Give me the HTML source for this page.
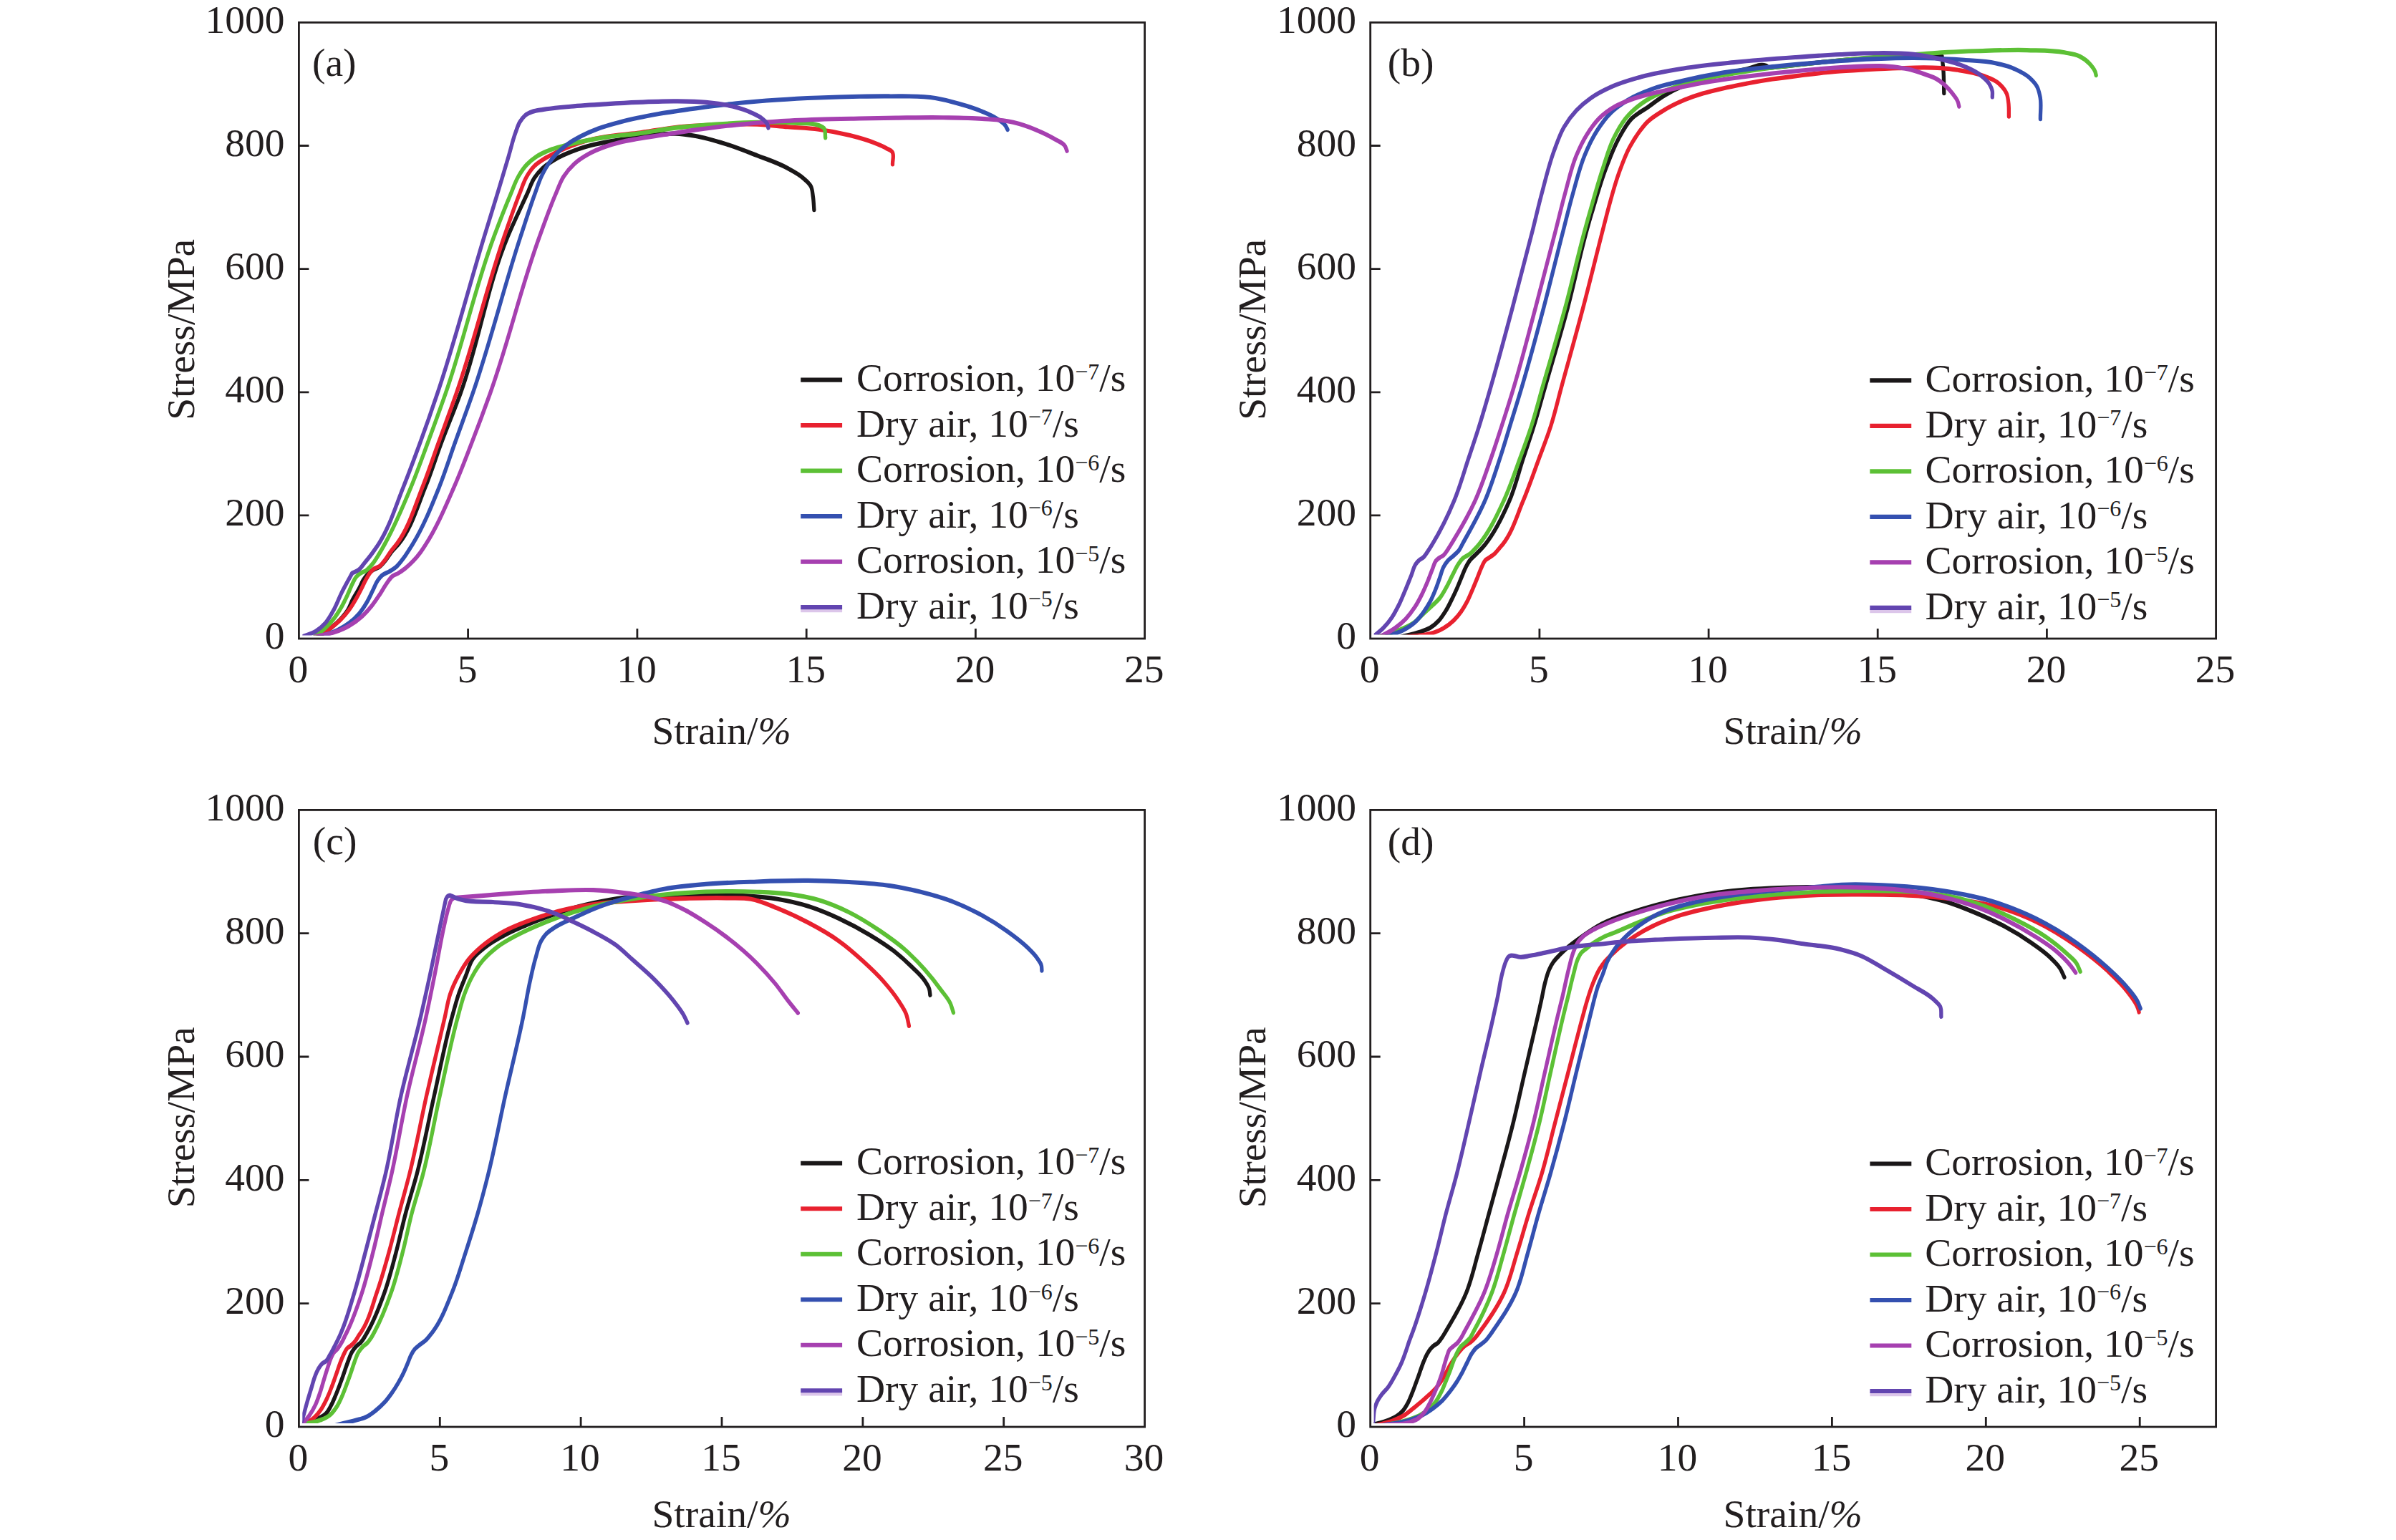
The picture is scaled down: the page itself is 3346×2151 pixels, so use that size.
<!DOCTYPE html>
<html lang="en"><head><meta charset="utf-8"><title>Stress-strain curves</title>
<style>
html,body{margin:0;padding:0;background:#fff;}
body{width:3346px;height:2151px;overflow:hidden;}
svg{display:block;}
text{font-family:"Liberation Serif", "Times New Roman", Times, serif;font-size:55.5px;fill:#221e1f;}
.sup{font-size:32px;}
.ax{stroke:#221e1f;stroke-width:2.8;fill:none;stroke-linecap:square;}
.tk{stroke:#221e1f;stroke-width:2.8;fill:none;}
.cv{fill:none;stroke-width:5.3;stroke-linecap:round;stroke-linejoin:round;}
.sw{fill:none;stroke-width:6.1;}
</style></head><body>
<svg xmlns="http://www.w3.org/2000/svg" width="3346" height="2151" viewBox="0 0 3346 2151">
<rect x="0" y="0" width="3346" height="2151" fill="#ffffff"/>
<g id="panel-a">
<clipPath id="clip-a"><rect x="422.3" y="31.4" width="1176.3" height="856.2"/></clipPath>
<g clip-path="url(#clip-a)"><g transform="scale(1 1.16)">
<path class="cv" stroke="#1a1718" d="M444 766.8C450.1 763.2 456.5 760 462.3 755.9C466.9 752.8 471.4 749.5 475.5 745.7C479.3 742.1 483 738.4 486 734.1C488.5 730.5 490 726.2 492.3 722.3C494.9 718 498.1 714 500.8 709.7C503.2 705.9 504.9 701.6 507.6 698C509.2 696 510.8 693.9 512.7 692.2C515.2 689.8 518 687.8 521 686.2C523.7 684.7 526.9 684.3 529.5 682.8C533.2 680.6 536 677.1 539 674C542 670.8 544.5 667 547.5 663.8C550.3 660.8 553.6 658.2 556.5 655.2C574.6 636.3 583 609.9 594.1 586.2C602.1 569.3 608.4 551.6 615.8 534.5C624.6 514.2 634.3 494.4 642.9 474.1C669 412.5 680.1 344.8 709.3 284.5C717.8 267 727.4 250 736.5 232.8C739.7 226.6 742 219.8 746.2 214.3C749.6 209.9 753.6 206 757.9 202.5C762.4 198.9 767.4 196 772.5 193.3C777.2 190.7 782.1 188.6 787.1 186.6C793.5 184 800 181.8 806.6 179.8C813 177.9 819.6 176.3 826.1 174.8C835.7 172.7 845.5 171.2 855.3 169.7C866.8 168 878.4 167.1 890 165.6C896.7 164.7 903.3 163.6 910 162.9C920.9 161.8 931.9 160.6 942.9 160.9C952.4 161.1 962 162.4 971.4 163.8C985.9 166 1000.1 169.8 1014.3 173.6C1028.7 177.5 1042.9 182.4 1057.1 187.2C1071.5 192 1086.3 196 1100 202.6C1107.4 206.1 1115.2 209.4 1121.7 214.5C1125.6 217.5 1130.2 220.3 1132.6 224.7C1134.6 228.4 1134.7 232.8 1135.4 236.9C1136.3 242.2 1136.4 247.5 1136.9 252.8"/>
<path class="cv" stroke="#e8212f" d="M444 766.8C450.1 763.2 456.4 759.9 462.3 755.9C467 752.8 471.7 749.6 476 745.9C480.2 742.3 484.1 738.3 487.7 734.1C490.9 730.4 493.7 726.4 496.4 722.3C499.2 718.2 501.7 714 504.2 709.7C506.5 705.9 508.5 701.8 511 698C512.9 695.1 514.6 692.1 516.9 689.6C518.6 687.7 520.5 685.9 522.7 684.6C524.8 683.4 527.4 683.2 529.5 682.1C533.1 680.1 535.6 676.6 538.3 673.6C541.1 670.5 543.3 666.8 546.1 663.5C548.6 660.6 551.4 658 553.9 655.2C571 635.6 579.2 609.8 590.1 586.2C598 569.2 604.6 551.7 611.8 534.5C620.2 514.4 628.9 494.4 637.1 474.1C662.2 411.9 679.3 346.7 704.3 284.5C711.3 267.2 718 249.7 725.8 232.8C728.9 226 731.3 218.8 735.5 212.6C738.6 208 742 203.6 746.2 200C749.7 197 753.9 194.7 757.9 192.4C762.6 189.7 767.6 187.5 772.5 185.3C778.2 182.8 784.1 180.6 790 178.4C798.7 175.3 807.5 172.3 816.4 170.1C826 167.7 835.8 166.1 845.6 164.7C860.3 162.4 875.2 161.9 890 160.2C907.7 158.2 925.2 155 942.9 153.4C961.9 151.6 980.9 150.9 1000 150.3C1019 149.7 1038.1 149.1 1057.1 149.7C1071.4 150.3 1085.7 151.8 1100 152.8C1114.5 153.8 1129 154.1 1143.4 155.8C1158 157.5 1172.5 159.9 1186.8 163C1197.8 165.4 1208.8 167.9 1219.4 171.5C1226 173.7 1232.7 175.9 1238.9 179C1241.2 180.1 1244 180.7 1245.8 182.7C1249.2 186.4 1246.3 192.7 1246.5 197.7"/>
<path class="cv" stroke="#5cc035" d="M439 766.8C444.2 763.2 449.6 760 454.5 755.9C458.6 752.6 462.6 749 466.2 745C470.2 740.6 473.6 735.7 476.9 730.8C480.1 725.9 482.9 720.7 485.7 715.6C488.1 711.2 489.9 706.5 492.5 702.2C494 699.6 495.3 696.8 497.4 694.7C499.1 693 501.1 691.6 503.2 690.4C505.6 689 508.6 688.5 511 687.1C514.3 685.1 517.1 682.3 519.8 679.5C523.5 675.7 526.4 671.2 529.5 666.9C532.2 663.1 534.8 659.1 537.3 655.2C551.4 633.3 562.9 609.7 574.1 586.2C582.2 569.2 589.4 551.8 596.8 534.5C605.4 514.4 613.9 494.4 622.1 474.1C647.3 411.9 663.3 346.1 690 284.5C697.5 267.1 705.2 249.8 713.6 232.8C716.9 226 719.6 218.8 723.8 212.6C727.2 207.5 731 202.5 735.5 198.4C739.3 194.8 743.7 191.7 748.2 189.1C754.3 185.4 761 183 767.7 180.7C774 178.5 780.6 177.2 787.1 175.7C796.8 173.4 806.6 171.5 816.4 169.7C826.1 168 835.8 166.5 845.6 165.2C860.3 163.2 875.2 162.6 890 160.9C907.7 159 925.2 155.8 942.9 154C961.9 152 980.9 150.8 1000 149.7C1019 148.6 1038.1 147.6 1057.1 147.3C1076.2 147.1 1095.3 147.1 1114.3 148.3C1123.9 148.9 1133.9 147.4 1142.9 150.8C1145.5 151.8 1148.6 152.3 1150.5 154.3C1153.2 157.2 1152 162 1152.7 165.9"/>
<path class="cv" stroke="#3450b0" d="M446 766.8C454.7 764 463.8 762.2 472.1 758.4C477.5 756 482.8 753.3 487.7 750.1C492.6 746.9 497.2 743.3 501.3 739.1C505.3 735.1 508.8 730.4 512 725.7C515.3 720.9 517.9 715.6 520.8 710.6C523.1 706.7 524.7 702.3 527.6 698.8C529.3 696.7 531.2 694.6 533.4 692.9C536.6 690.5 540.7 689.8 544.2 687.9C547.5 686.2 550.9 684.4 553.9 682.1C557.6 679.2 560.6 675.5 563.6 672C566.4 668.8 568.9 665.3 571.4 661.9C573.1 659.7 574.7 657.4 576.3 655.2C591.4 633.9 602.5 609.9 613.5 586.2C621.3 569.3 627.7 551.7 634.8 534.5C643.1 514.3 651.9 494.4 660 474.1C685 411.9 703.2 347.1 727.1 284.5C733.7 267.2 740 249.8 747.2 232.8C750.1 226 752.5 219 756 212.6C758.9 207.3 762 202.2 765.7 197.5C769.2 193 773.2 188.8 777.4 184.9C781.9 180.8 786.9 177.2 792 174C798.2 170 804.8 166.9 811.5 163.9C819.4 160.3 827.6 157.3 835.8 154.7C845.4 151.6 855.3 149.3 865.1 147.1C873.4 145.2 881.7 143.6 890 142.1C900 140.2 910 138.6 920 137.1C937.1 134.5 954.2 132.5 971.4 130.5C990.4 128.3 1009.5 126.1 1028.6 124.4C1047.6 122.7 1066.6 121.4 1085.7 120.3C1104.8 119.1 1123.8 118.3 1142.9 117.7C1161.9 117 1181 116.5 1200 116.2C1213.7 116 1227.3 115.8 1241 115.9C1262.7 116 1284.7 115 1306.2 118.1C1317.1 119.7 1328 122 1338.7 124.7C1349.7 127.3 1360.7 130.1 1371.3 134.1C1378.7 136.8 1386.2 139.3 1393 143.4C1396.8 145.6 1401 147.5 1403.8 150.9C1405.1 152.5 1406 154.4 1407.1 156.1"/>
<path class="cv" stroke="#a640b0" d="M440 766.8C449.4 764.9 459 763.8 468.2 760.9C474.9 758.9 481.5 756.6 487.7 753.4C493.9 750.4 499.8 746.7 505.2 742.5C510.1 738.7 514.6 734.4 518.8 729.9C523 725.4 526.7 720.5 530.5 715.6C533.9 711.2 536.7 706.4 540.3 702.2C542.7 699.3 544.8 695.9 548 693.8C550.4 692.2 553.3 691.7 555.8 690.4C559.2 688.7 562.4 686.7 565.6 684.6C569.7 681.8 573.6 678.7 577.3 675.3C580.7 672.2 584 668.8 587 665.3C589.8 662 592.3 658.6 594.8 655.2C610.6 633.9 622.2 609.8 634.2 586.2C642.8 569.3 650.4 551.8 658.2 534.5C667.2 514.5 675.9 494.4 684.3 474.1C710.1 412 727.3 346.5 753.6 284.5C761 267.1 767.9 249.6 776.4 232.8C779.8 226 782.6 218.7 787.1 212.6C791.3 206.9 796.3 201.9 801.8 197.5C807.7 192.8 814.4 189.1 821.2 185.8C829 181.9 837.3 179 845.6 176.5C852 174.5 858.5 172.9 865.1 171.5C873.3 169.7 881.7 168.5 890 167.2C902.8 165.2 915.7 163.8 928.6 162.1C942.9 160.2 957.1 158.1 971.4 156.4C990.4 154.1 1009.5 152 1028.6 150.3C1047.6 148.6 1066.6 147.2 1085.7 146.1C1104.8 145 1123.8 144.4 1142.9 143.8C1161.9 143.2 1181 143 1200 142.7C1217.3 142.4 1234.6 142.1 1251.9 141.9C1273.6 141.7 1295.3 141.3 1317 141.6C1335.1 141.8 1353.2 141.8 1371.3 143C1385.8 144 1400.5 144.3 1414.7 147.2C1425.7 149.4 1436.6 152.6 1447.2 156.5C1456.1 159.7 1464.9 163.2 1473.3 167.7C1478.1 170.3 1484.3 171.6 1487.4 176.1C1488.6 177.8 1489.1 179.9 1490 181.7"/>
<path class="cv" stroke="#6245b0" d="M422 766.8C428.3 764.6 435 763.3 440.9 760.1C445.8 757.4 450.5 754 454.5 750.1C459.2 745.5 462.7 739.7 466.2 734.1C470.3 727.7 473.1 720.6 476.9 714C479.7 709.1 482.7 704.4 485.7 699.7C487.7 696.5 489.8 693.3 491.8 690.1C495 688.7 498.4 687.8 501.3 685.9C504.4 683.8 506.5 680.6 509.1 677.8C512.7 674 516.4 670.1 519.8 666.1C522.8 662.6 525.8 658.9 528.6 655.2C544.1 634.6 552.5 609.5 563.4 586.2C571.4 569.1 578.7 551.8 586.1 534.5C594.6 514.5 602.8 494.4 610.7 474.1C635.1 411.9 654.1 347.6 676.4 284.5C682.5 267.2 688.7 250 694.8 232.8C700.1 217.7 705.3 202.5 710.5 187.4C713.7 178.1 716.1 168.5 720 159.5C721.8 155.3 723.2 150.8 725.8 147.1C728 143.9 730.5 140.9 733.6 138.7C736.5 136.7 739.9 135.6 743.3 134.5C748 133 753 132.7 757.9 132C770.8 130 783.9 129.2 796.9 128.2C813.1 126.9 829.4 126.1 845.6 125.3C860.4 124.5 875.2 123.7 890 123.2C907.6 122.5 925.3 121.8 942.9 121.9C957.2 122 971.5 122 985.7 123.2C998.2 124.2 1010.7 125.4 1022.9 128.1C1031.6 130 1040.3 132.2 1048.6 135.4C1054 137.6 1059.6 139.5 1064.3 142.8C1066.9 144.7 1069.9 146.3 1071.4 149.1C1072.2 150.6 1072.4 152.3 1072.9 154"/>
</g></g>
<rect class="ax" x="417.4" y="31.4" width="1181.2" height="860.6"/>
<path class="tk" d="M653.6 892 v-14M889.9 892 v-14M1126.2 892 v-14M1362.4 892 v-14M417.4 719.9 h14M417.4 547.8 h14M417.4 375.6 h14M417.4 203.5 h14"/>
<text x="416.4" y="952.8" text-anchor="middle">0</text>
<text x="652.6" y="952.8" text-anchor="middle">5</text>
<text x="888.9" y="952.8" text-anchor="middle">10</text>
<text x="1125.2" y="952.8" text-anchor="middle">15</text>
<text x="1361.4" y="952.8" text-anchor="middle">20</text>
<text x="1597.7" y="952.8" text-anchor="middle">25</text>
<text x="397.6" y="906.2" text-anchor="end">0</text>
<text x="397.6" y="734.1" text-anchor="end">200</text>
<text x="397.6" y="562" text-anchor="end">400</text>
<text x="397.6" y="389.8" text-anchor="end">600</text>
<text x="397.6" y="217.7" text-anchor="end">800</text>
<text x="397.6" y="45.6" text-anchor="end">1000</text>
<text x="1007.5" y="1038.9" text-anchor="middle">Strain/<tspan font-style="italic">%</tspan></text>
<text transform="translate(270.6 460.2) rotate(-90)" text-anchor="middle">Stress/MPa</text>
<text x="436" y="106">(a)</text>
<path class="sw" stroke="#1a1718" d="M1118.2 530.6 H1176.1"/>
<text x="1196" y="546.2">Corrosion, 10<tspan class="sup" dy="-16.3">−7</tspan><tspan dy="16.3">/s</tspan></text>
<path class="sw" stroke="#e8212f" d="M1118.2 594.1 H1176.1"/>
<text x="1196" y="609.7">Dry air, 10<tspan class="sup" dy="-16.3">−7</tspan><tspan dy="16.3">/s</tspan></text>
<path class="sw" stroke="#5cc035" d="M1118.2 657.6 H1176.1"/>
<text x="1196" y="673.2">Corrosion, 10<tspan class="sup" dy="-16.3">−6</tspan><tspan dy="16.3">/s</tspan></text>
<path class="sw" stroke="#3450b0" d="M1118.2 721.1 H1176.1"/>
<text x="1196" y="736.7">Dry air, 10<tspan class="sup" dy="-16.3">−6</tspan><tspan dy="16.3">/s</tspan></text>
<path class="sw" stroke="#a640b0" d="M1118.2 784.6 H1176.1"/>
<text x="1196" y="800.2">Corrosion, 10<tspan class="sup" dy="-16.3">−5</tspan><tspan dy="16.3">/s</tspan></text>
<path class="sw" stroke="#dcc6ea" stroke-width="3" d="M1118.2 852.3 H1176.1"/>
<path class="sw" stroke="#6245b0" d="M1118.2 848.1 H1176.1"/>
<text x="1196" y="863.7">Dry air, 10<tspan class="sup" dy="-16.3">−5</tspan><tspan dy="16.3">/s</tspan></text>
</g>
<g id="panel-b">
<clipPath id="clip-b"><rect x="1918.6" y="31.4" width="1176" height="855.2"/></clipPath>
<g clip-path="url(#clip-b)"><g transform="scale(1 1.16)">
<path class="cv" stroke="#1a1718" d="M1957 766.8C1965.6 764.9 1974.4 763.5 1982.8 760.9C1987.7 759.5 1992.8 758.3 1997.4 755.9C2001.7 753.7 2005.6 750.8 2009.1 747.5C2012.8 744 2015.8 739.9 2018.8 735.8C2021.7 731.8 2024.1 727.5 2026.6 723.2C2029.3 718.5 2031.9 713.7 2034.4 708.9C2036.8 704.2 2038.9 699.4 2041.2 694.7C2043.1 690.7 2044.8 686.6 2047.1 682.8C2048.9 679.9 2050.6 677 2052.9 674.5C2055.2 671.9 2058.1 670 2060.7 667.8C2063.3 665.5 2066 663.4 2068.5 661C2070.5 659.1 2072.4 657.2 2074.3 655.2C2088.4 640.2 2098.5 621.8 2107.7 603.4C2115.9 586.9 2120.7 569 2127.3 551.7C2132.2 538.8 2137.4 526 2142.1 512.9C2147.7 497.3 2152.6 481.3 2157.9 465.5C2168.4 433.9 2179.5 402.5 2189.3 370.7C2199 339.3 2206.2 307.1 2216.4 275.9C2218.5 269.3 2220.7 262.7 2223 256.1C2229.3 237.9 2235.2 219.6 2243 202C2248.2 190.3 2253.2 178.3 2260 167.5C2265.5 158.8 2270.9 149.7 2278.6 142.8C2285.3 136.9 2293.8 133.5 2301.4 128.9C2309.2 124.1 2316.8 118.9 2325 114.7C2333.7 110.2 2342.8 106.3 2352 103C2360.7 99.9 2369.7 97.6 2378.6 95.3C2392.7 91.6 2407.1 89.5 2421.4 86.6C2427.6 85.4 2433.8 84 2440 82.9C2448.6 81.4 2457.7 76.2 2466 79.1C2467.7 79.7 2469.2 81 2471 81.5C2473.5 82 2476.1 81.2 2478.6 81C2492.4 80.2 2506.2 78.4 2520 77.2C2534.3 75.8 2548.6 74.4 2562.9 73.3C2581.9 71.7 2601 70.3 2620.1 69.4C2640.1 68.5 2660 68.4 2680 68.1C2690.7 67.9 2701.3 67.8 2712 67.7C2712.6 73.2 2713.4 78.7 2713.9 84.3C2714.7 93.6 2714.5 103 2714.8 112.3"/>
<path class="cv" stroke="#e8212f" d="M1965 766.8C1977.4 765.1 1990.3 765.6 2002.3 761.8C2007.3 760.2 2012.3 758.4 2016.9 755.9C2021.4 753.6 2025.6 750.7 2029.5 747.5C2033.4 744.3 2037 740.6 2040.3 736.6C2043.6 732.7 2046.4 728.4 2049 724.1C2051.9 719.2 2054.3 714 2056.8 708.9C2059.1 704.2 2061.4 699.4 2063.6 694.7C2065.6 690.5 2067.2 686.1 2069.5 682.1C2071 679.5 2072.1 676.5 2074.3 674.5C2076 673 2078.3 672.3 2080.2 671.1C2082.5 669.8 2084.9 668.5 2087 666.9C2089.5 664.9 2091.6 662.4 2093.8 660.2C2095.4 658.5 2097.1 656.9 2098.7 655.2C2112 640.8 2118.3 621.1 2126.9 603.4C2135.1 586.5 2142 569 2149.4 551.7C2154.9 538.8 2160.8 526.1 2165.7 512.9C2171.5 497.4 2175.7 481.3 2180.7 465.5C2190.7 433.9 2201 402.4 2210.7 370.7C2220.3 339.2 2229.2 307.4 2238.6 275.9C2240.6 269.3 2242.5 262.7 2244.5 256.1C2249.7 239.6 2254.6 222.8 2261.4 206.9C2265.7 196.8 2269.9 186.6 2275.7 177.3C2280 170.5 2284.7 163.9 2290 157.8C2293.2 154.1 2296.4 150.5 2300 147.3C2306.5 141.6 2314.4 137.7 2322 133.6C2331.8 128.3 2342.1 124 2352.6 120.2C2360.9 117.2 2369.4 114.7 2378 112.5C2387 110.2 2396.1 108.4 2405.2 106.6C2416.7 104.2 2428.4 102.3 2440 100.4C2451.7 98.5 2463.5 96.8 2475.3 95.3C2489.8 93.4 2504.4 91.9 2519 90.3C2533.6 88.8 2548.2 87.3 2562.9 86.2C2577.2 85.1 2591.6 84.5 2606 83.8C2620.9 83.1 2635.7 82.4 2650.6 82.1C2666.7 81.7 2682.9 81 2699 81.6C2706 81.8 2713 82 2720 82.7C2724.7 83.1 2729.3 83.7 2734 84.3C2745.8 85.9 2757.8 87.4 2769.1 91.1C2777 93.7 2785.5 95.7 2791.9 100.9C2796 104.3 2800.2 108.2 2802.4 113C2804.1 116.8 2804.5 121.1 2805 125.2C2805.6 130.2 2805.3 135.2 2805.4 140.3"/>
<path class="cv" stroke="#5cc035" d="M1925 766.8C1934.8 764 1944.9 762 1954.5 758.4C1961.1 756 1968 753.8 1974 750.1C1979 747 1983.1 742.8 1987.7 739.1C1991.9 735.8 1996.2 732.5 2000.3 729.1C2003.6 726.3 2007.1 723.8 2010.1 720.7C2013.9 716.7 2016.8 711.9 2019.8 707.2C2023 702.4 2025.6 697.1 2028.6 692.2C2031.2 687.9 2033.4 683.4 2036.4 679.5C2038.5 676.8 2040.5 674.1 2043.2 672C2046.1 669.7 2049.9 669 2052.9 666.9C2055.4 665.2 2057.5 663.1 2059.7 661C2061.7 659.1 2063.7 657.2 2065.6 655.2C2079.9 640.3 2089.9 621.6 2099.7 603.4C2108.7 586.9 2115.3 569.1 2122.7 551.7C2128.2 538.9 2133.7 526 2138.6 512.9C2144.4 497.3 2149.1 481.3 2154.3 465.5C2164.8 433.9 2175.8 402.5 2185.7 370.7C2195.5 339.2 2203.6 307.3 2213.6 275.9C2215.7 269.3 2217.8 262.7 2220 256.1C2226 238 2231.7 219.8 2238.6 202C2243.1 190.4 2246.8 178.4 2252.9 167.5C2257.8 158.8 2263.2 150.2 2270 142.8C2276.7 135.7 2284.6 129.6 2292.9 124.4C2301.8 118.8 2311.6 114.8 2321.4 110.9C2335.3 105.3 2349.8 101.4 2364.3 97.8C2383.1 93.3 2402.3 91.2 2421.4 88.4C2440.4 85.6 2459.5 83.1 2478.6 81C2492.4 79.5 2506.2 78.4 2520 77.2C2534.3 75.8 2548.6 74.5 2562.9 73.3C2575.3 72.2 2587.6 71.2 2600 70.3C2611 69.4 2622 68.7 2633 68C2650.5 66.9 2668.1 66.1 2685.6 65C2697.1 64.3 2708.5 63.3 2720 62.8C2733.4 62.1 2746.9 61.7 2760.3 61.4C2783.7 60.8 2807.1 59.9 2830.5 60.4C2848 60.9 2865.7 60.3 2883 63.2C2890.1 64.4 2897.5 64.8 2904.1 67.8C2909.2 70 2914.1 73 2918.1 76.8C2921.2 79.7 2924.4 82.7 2926 86.6C2926.5 87.9 2926.8 89.3 2927.2 90.7"/>
<path class="cv" stroke="#3450b0" d="M1935 766.8C1943.5 764 1952.4 762.3 1960.4 758.4C1965.8 755.8 1971.3 753 1976 749.2C1980.4 745.8 1984.1 741.6 1987.7 737.4C1991.3 733.2 1994.5 728.7 1997.4 724.1C2000.4 719.2 2002.8 714.1 2005.2 708.9C2007.3 704.2 2009.1 699.4 2011 694.7C2012.6 690.7 2013.7 686.5 2015.9 682.8C2017.5 680.1 2019.5 677.6 2021.7 675.3C2024.3 672.7 2027.6 671 2030.5 668.6C2032.8 666.7 2035.3 665 2037.3 662.8C2039.3 660.5 2040.6 657.7 2042.2 655.2C2053.1 638.2 2064.5 621.5 2073.5 603.4C2081.8 586.8 2088.1 569.1 2094.7 551.7C2099.6 538.9 2104 525.9 2108.6 512.9C2114.2 497.1 2120 481.4 2125.4 465.5C2136.2 434.1 2146 402.4 2155.7 370.7C2165.4 339.2 2174.1 307.4 2183.6 275.9C2188 261.1 2192.2 246.2 2197 231.6C2201.9 216.6 2206.1 201.3 2212.9 187.2C2217.8 176.9 2223.3 166.8 2230 157.7C2235.9 149.6 2242.4 141.8 2250 135.4C2256.9 129.6 2264.9 125 2272.9 120.7C2283.7 114.9 2295.4 110.9 2307.1 107.2C2321.1 102.7 2335.6 100.3 2350 97.3C2368.9 93.4 2388 90.1 2407.1 87.4C2430.8 84.1 2454.7 82.2 2478.6 80.1C2502.4 78 2526.2 76.1 2550 74.6C2573.4 73 2596.7 71.5 2620.1 70.8C2643.5 70 2666.8 69.5 2690.2 70C2707.7 70.3 2725.3 71.1 2742.8 72.2C2757.4 73.2 2772.2 73.3 2786.6 76C2795.5 77.7 2804.4 79.6 2812.9 82.8C2820.2 85.7 2827.8 88.6 2834 93.4C2837.9 96.5 2841.9 99.7 2844.5 104C2846.8 107.6 2847.9 111.9 2848.9 116.1C2851.1 124.9 2849.2 134.2 2849.4 143.3"/>
<path class="cv" stroke="#a640b0" d="M1927 766.8C1934.2 763.2 1941.9 760.3 1948.7 755.9C1953.8 752.7 1958.8 749.1 1963.3 745C1968 740.7 1972.2 735.8 1976 730.8C1979.6 726 1982.7 720.8 1985.7 715.6C1988.5 710.7 1991 705.6 1993.5 700.5C1995.9 695.6 1997.9 690.4 2000.3 685.4C2001.9 682.1 2002.7 678.1 2005.2 675.3C2006.6 673.8 2008.4 672.7 2010.1 671.6C2011.9 670.4 2014.2 669.9 2015.9 668.6C2018.3 666.9 2019.9 664.2 2021.7 661.9C2023.4 659.7 2025 657.4 2026.6 655.2C2038.5 638.5 2050.1 621.5 2059.7 603.4C2068.5 586.8 2075.1 569.1 2082.2 551.7C2087.4 538.9 2092.2 525.9 2097.1 512.9C2103 497.2 2108.8 481.4 2114.3 465.5C2125.2 434.2 2134.5 402.4 2144.3 370.7C2154 339.1 2163.5 307.5 2172.9 275.9C2177.3 261.1 2181.3 246.2 2186 231.6C2190.8 216.6 2194.5 201.2 2201.4 187.2C2205.6 178.6 2210.1 170.3 2215.7 162.6C2220.8 155.5 2226.3 148.6 2232.9 142.8C2239.7 136.9 2247.6 132.1 2255.7 128.1C2262.8 124.6 2270.4 122.2 2278 119.8C2285.2 117.6 2292.6 115.9 2300 114.1C2314.5 110.7 2329.2 108.3 2343.8 105.6C2358.4 103 2373 100.4 2387.6 98.3C2402 96.2 2416.5 94.6 2431 92.9C2445.7 91.3 2460.5 89.8 2475.3 88.4C2489.9 87.1 2504.4 85.9 2519 84.7C2533.6 83.6 2548.3 82.5 2562.9 81.6C2575.3 80.9 2587.6 80.2 2600 79.8C2608.1 79.6 2616.2 79.2 2624.3 79.4C2632.9 79.6 2641.5 80 2650 81C2656.1 81.8 2662.1 82.6 2668.1 83.9C2675.6 85.5 2682.9 87.8 2690.2 90.1C2694.6 91.5 2699.1 92.5 2703.2 94.5C2707.8 96.6 2712 99.5 2716 102.6C2720 105.7 2723.7 109.2 2727 113C2729.5 115.9 2732.4 118.6 2734 122.2C2734.9 124.1 2735.2 126.2 2735.8 128.2"/>
<path class="cv" stroke="#6245b0" d="M1917.5 766.8C1922.4 763.2 1927.6 760 1932.1 755.9C1936.4 752.1 1940.3 747.9 1943.8 743.4C1947.9 738.1 1951.2 732.3 1954.5 726.6C1957.7 720.8 1960.4 714.8 1963.3 708.9C1966 703.3 1968.5 697.7 1971.1 692.2C1973 687.9 1974.1 683.2 1976.9 679.5C1978.3 677.6 1979.9 675.9 1981.8 674.5C1983.6 673.1 1985.9 672.5 1987.7 671.1C1990 669.3 1991.6 666.7 1993.5 664.4C1995.9 661.4 1998.1 658.3 2000.3 655.2C2011.9 638.9 2021.8 621.4 2030.5 603.4C2038.5 586.8 2044.2 569 2050.9 551.7C2055.9 538.8 2061 525.9 2065.7 512.9C2071.4 497.2 2076.7 481.4 2082 465.5C2092.5 434.1 2102.3 402.4 2112.1 370.7C2121.9 339.1 2131.4 307.5 2140.7 275.9C2145 261.1 2148.9 246.2 2153.5 231.6C2158.6 215 2163.2 198.2 2170 182.2C2174.3 172.2 2178.1 161.7 2184.3 152.7C2189.2 145.5 2195 138.9 2201.4 133C2207.5 127.4 2214.3 122.5 2221.4 118.2C2230.4 112.7 2240.2 108.5 2250 104.7C2263.8 99.2 2278.4 95.8 2292.9 92.3C2311.7 87.9 2330.9 85.2 2350 82.5C2373.7 79.1 2397.6 77.2 2421.4 75.1C2449.9 72.5 2478.5 70.7 2507.1 69C2528.1 67.7 2549 66.4 2570 65.5C2586.7 64.8 2603.4 64 2620.1 64C2637.6 63.9 2655.3 63.7 2672.7 65.4C2684.5 66.6 2696.2 68.4 2707.8 70.8C2719.6 73.2 2731.5 75.6 2742.8 79.8C2750.6 82.8 2758.7 85.7 2765.6 90.4C2770 93.5 2774.8 96.5 2777.9 100.9C2779.8 103.7 2781.7 106.7 2782.3 110C2782.7 112.2 2782.3 114.5 2782.3 116.8"/>
</g></g>
<rect class="ax" x="1913.7" y="31.4" width="1180.9" height="860.6"/>
<path class="tk" d="M2149.9 892 v-14M2386.1 892 v-14M2622.2 892 v-14M2858.4 892 v-14M1913.7 719.9 h14M1913.7 547.8 h14M1913.7 375.6 h14M1913.7 203.5 h14"/>
<text x="1912.7" y="952.8" text-anchor="middle">0</text>
<text x="2148.9" y="952.8" text-anchor="middle">5</text>
<text x="2385.1" y="952.8" text-anchor="middle">10</text>
<text x="2621.2" y="952.8" text-anchor="middle">15</text>
<text x="2857.4" y="952.8" text-anchor="middle">20</text>
<text x="3093.6" y="952.8" text-anchor="middle">25</text>
<text x="1893.9" y="906.2" text-anchor="end">0</text>
<text x="1893.9" y="734.1" text-anchor="end">200</text>
<text x="1893.9" y="562" text-anchor="end">400</text>
<text x="1893.9" y="389.8" text-anchor="end">600</text>
<text x="1893.9" y="217.7" text-anchor="end">800</text>
<text x="1893.9" y="45.6" text-anchor="end">1000</text>
<text x="2503.7" y="1038.9" text-anchor="middle">Strain/<tspan font-style="italic">%</tspan></text>
<text transform="translate(1766.9 460.2) rotate(-90)" text-anchor="middle">Stress/MPa</text>
<text x="1937.7" y="106">(b)</text>
<path class="sw" stroke="#1a1718" d="M2611.3 531.4 H2669.2"/>
<text x="2688.5" y="547">Corrosion, 10<tspan class="sup" dy="-16.3">−7</tspan><tspan dy="16.3">/s</tspan></text>
<path class="sw" stroke="#e8212f" d="M2611.3 594.9 H2669.2"/>
<text x="2688.5" y="610.5">Dry air, 10<tspan class="sup" dy="-16.3">−7</tspan><tspan dy="16.3">/s</tspan></text>
<path class="sw" stroke="#5cc035" d="M2611.3 658.4 H2669.2"/>
<text x="2688.5" y="674">Corrosion, 10<tspan class="sup" dy="-16.3">−6</tspan><tspan dy="16.3">/s</tspan></text>
<path class="sw" stroke="#3450b0" d="M2611.3 721.9 H2669.2"/>
<text x="2688.5" y="737.5">Dry air, 10<tspan class="sup" dy="-16.3">−6</tspan><tspan dy="16.3">/s</tspan></text>
<path class="sw" stroke="#a640b0" d="M2611.3 785.4 H2669.2"/>
<text x="2688.5" y="801">Corrosion, 10<tspan class="sup" dy="-16.3">−5</tspan><tspan dy="16.3">/s</tspan></text>
<path class="sw" stroke="#dcc6ea" stroke-width="3" d="M2611.3 853.1 H2669.2"/>
<path class="sw" stroke="#6245b0" d="M2611.3 848.9 H2669.2"/>
<text x="2688.5" y="864.5">Dry air, 10<tspan class="sup" dy="-16.3">−5</tspan><tspan dy="16.3">/s</tspan></text>
</g>
<g id="panel-c">
<clipPath id="clip-c"><rect x="422.3" y="1131.4" width="1176.3" height="856.7"/></clipPath>
<g clip-path="url(#clip-c)"><g transform="scale(1 1.16)">
<path class="cv" stroke="#1a1718" stroke-width="3.9" d="M420 1716C427.9 1713.5 436.3 1712 443.8 1708.4C447.9 1706.5 452.2 1704.8 455.5 1701.7C458.3 1699.1 460.2 1695.7 462.3 1692.4C465 1688.2 467 1683.6 469.2 1679.1C471.6 1674.1 473.8 1669 476 1663.9C478 1659.2 479.9 1654.4 481.8 1649.7C483.4 1645.7 484.9 1641.7 486.7 1637.8C488.2 1634.4 489.5 1630.8 491.6 1627.8C493.3 1625.3 495.2 1623.1 497.4 1621.1C499.5 1619.2 502.2 1618 504.2 1616C506.5 1613.8 508.2 1611.1 510.1 1608.4C511.3 1606.8 512.4 1605.1 513.5 1603.4C523.2 1588.7 530.4 1572.4 537.1 1556C543.4 1540.6 548 1524.5 552.9 1508.6C557.7 1492.9 561.6 1476.9 566.4 1461.2C571.3 1445.3 577.2 1429.7 582.1 1413.8C591.6 1382.6 598.2 1350.5 606.4 1319C614.6 1287.3 621.4 1255.3 631.4 1224.1C634.3 1215.1 637 1205.9 640.5 1197.1C643.5 1189.5 647.1 1182.3 650.5 1174.9C653.7 1168 655.7 1160.2 660.5 1154.3C664.9 1148.8 671.2 1145 677 1140.9C685.7 1134.9 695.4 1130.3 705 1125.9C714.1 1121.6 723.6 1118.2 733 1114.7C742.6 1111.1 752.3 1107.9 762 1104.7C771.3 1101.7 780.6 1098.7 790 1096.1C802.7 1092.7 815.6 1089.9 828.6 1087.4C842.8 1084.7 857 1082.3 871.4 1080.8C890.4 1078.8 909.5 1078.9 928.6 1078.4C947.6 1077.8 966.7 1077.5 985.7 1077.6C1004.8 1077.7 1023.9 1077.7 1042.9 1078.8C1057.2 1079.6 1071.5 1080.5 1085.7 1082.5C1100.1 1084.6 1114.5 1087.3 1128.6 1091.1C1143.2 1095.1 1157.4 1100.3 1171.4 1105.9C1186 1111.8 1200.3 1118.3 1214.3 1125.6C1226 1131.7 1237.7 1138 1248.6 1145.3C1257.5 1151.4 1266.1 1158 1274.3 1165C1280.2 1170.1 1286.7 1174.8 1291.4 1181C1293.8 1184.1 1296.5 1187.2 1297.7 1190.9C1298.5 1193.2 1298.5 1195.8 1298.9 1198.3"/>
<path class="cv" stroke="#e8212f" d="M420 1716.8C426.3 1713.4 433.4 1711.2 439 1706.7C442.6 1703.8 445.8 1700.3 448.7 1696.6C451.7 1692.7 454.1 1688.4 456.5 1684.1C459 1679.4 461.2 1674.6 463.3 1669.7C465.4 1665.1 467.3 1660.3 469.2 1655.5C471.2 1650.8 472.9 1645.9 475 1641.2C476.5 1637.8 478.1 1634.4 479.9 1631.1C481.4 1628.5 482.5 1625.7 484.7 1623.6C486.4 1622 488.7 1621.3 490.6 1619.8C492.7 1618.2 494.6 1616.4 496.4 1614.4C498.2 1612.3 499.6 1609.9 501.3 1607.7C502.4 1606.2 503.6 1604.9 504.7 1603.4C515.3 1589.7 519.9 1572.2 526.4 1556C532.6 1540.5 537.8 1524.5 542.9 1508.6C548 1492.9 552.3 1477 557.1 1461.2C561.9 1445.4 567.2 1429.7 571.8 1413.8C580.9 1382.5 587.5 1350.5 595.7 1319C604 1287.3 612.9 1255.8 621.4 1224.1C623.8 1215.1 625.2 1205.8 628.6 1197.1C631.6 1189.3 635.6 1182 640 1174.9C644.3 1168 648.8 1161.1 654.3 1155.2C659.4 1149.7 665.4 1144.9 671.4 1140.4C680.3 1133.8 690 1128.2 700 1123.2C713.6 1116.3 728.3 1111.7 742.9 1107.2C757 1102.7 771.3 1099.1 785.7 1096C804.6 1092 823.7 1089.5 842.9 1087.4C861.9 1085.4 880.9 1084.6 900 1083.7C919 1082.8 938.1 1082.2 957.1 1081.8C976.2 1081.4 995.2 1080.9 1014.3 1081.3C1025.7 1081.5 1037.3 1080.7 1048.6 1082.5C1061.4 1084.5 1073.5 1089.4 1085.7 1093.6C1100.3 1098.7 1114.6 1104.5 1128.6 1110.9C1143.2 1117.5 1157.7 1124.5 1171.4 1133C1183.4 1140.4 1194.7 1148.9 1205.7 1157.7C1215.6 1165.5 1225.4 1173.4 1234.3 1182.2C1241.4 1189.2 1248.3 1196.4 1254.3 1204.4C1258.4 1209.9 1263.1 1215.3 1265.7 1221.6C1267.5 1226 1268.2 1230.7 1269.4 1235.3"/>
<path class="cv" stroke="#5cc035" d="M420 1715.3C428.9 1713.6 438.2 1713.1 446.8 1710.1C451.5 1708.5 456.4 1707.1 460.4 1704.2C464.2 1701.5 467.3 1697.8 470.1 1694.1C473.2 1690 475.5 1685.3 477.9 1680.7C480.4 1675.8 482.5 1670.7 484.7 1665.6C486.7 1660.9 488.7 1656.1 490.6 1651.3C492.3 1647.1 493.7 1642.8 495.5 1638.7C497 1635.3 498.2 1631.7 500.3 1628.6C502 1626.2 504 1623.9 506.2 1621.9C508.3 1620 510.9 1618.8 513 1616.9C515.2 1614.9 517 1612.5 518.8 1610.2C520.4 1608 521.8 1605.7 523.2 1603.4C532.6 1588.6 539.8 1572.3 546.4 1556C552.7 1540.6 557.3 1524.6 562.1 1508.6C566.8 1492.9 570.3 1476.9 575 1461.2C579.8 1445.3 585.9 1429.7 590.7 1413.8C600.1 1382.6 606.2 1350.5 614.3 1319C622.4 1287.3 629.5 1255.3 639.5 1224.1C642.4 1215.1 644.9 1205.8 648.6 1197.1C651.9 1189.4 655.5 1181.9 660 1174.9C664.2 1168.3 668.9 1162 674.3 1156.4C680.2 1150.3 687.2 1145.2 694.3 1140.4C703.2 1134.5 713.1 1130.1 722.9 1125.6C734 1120.5 745.6 1116.2 757.1 1112.1C771.2 1107 785.5 1102.5 800 1098.5C814.2 1094.7 828.5 1091.5 842.9 1088.7C861.8 1085 880.9 1082.4 900 1080.1C919 1077.8 938 1076.2 957.1 1075.1C976.1 1074 995.2 1073.4 1014.3 1073.3C1028.6 1073.2 1042.8 1073.4 1057.1 1073.9C1071.4 1074.4 1085.8 1074.8 1100 1076.4C1114.4 1078 1128.8 1080.1 1142.9 1083.7C1157.5 1087.4 1171.8 1092.6 1185.7 1098.5C1200.5 1104.8 1214.7 1112.6 1228.6 1120.7C1240.3 1127.6 1252 1134.6 1262.9 1142.8C1272.9 1150.4 1282.4 1158.7 1291.4 1167.5C1299.4 1175.3 1307 1183.6 1314.3 1192.2C1318.7 1197.4 1323.9 1202.1 1327.1 1208.1C1328.9 1211.6 1330 1215.5 1331.4 1219.2"/>
<path class="cv" stroke="#3450b0" d="M462 1717.7C470.6 1715.8 479.1 1713.9 487.7 1712.1C492.6 1711 497.5 1710.2 502.3 1708.9C505.6 1708 508.9 1707.2 512 1705.9C516.5 1704 520.6 1701.1 524.7 1698.4C528.8 1695.6 532.8 1692.5 536.4 1689.1C540.3 1685.5 543.7 1681.4 547.1 1677.3C550.2 1673.6 553.1 1669.6 555.8 1665.6C558.6 1661.5 561.2 1657.3 563.6 1653C565.7 1649.2 567.6 1645.2 569.5 1641.2C571.1 1637.9 572.3 1634.3 574.3 1631.1C575.7 1628.8 577.3 1626.4 579.2 1624.5C581.2 1622.5 583.7 1621 586 1619.4C588.5 1617.6 591.4 1616.3 593.8 1614.4C596.3 1612.4 598.4 1610 600.6 1607.7C601.9 1606.3 603.2 1604.9 604.5 1603.4C616.5 1589.8 623.6 1572.5 631.4 1556C638.7 1540.7 644 1524.5 650 1508.6C655.9 1492.9 661.8 1477.1 667.1 1461.2C672.4 1445.5 677.2 1429.7 681.8 1413.8C690.9 1382.5 697.6 1350.5 705.7 1319C713.9 1287.3 723.2 1256 730.7 1224.1C734 1210.2 736.5 1196.1 740 1182.2C742.6 1171.9 745.1 1161.5 748.6 1151.5C750.7 1145.2 752.1 1138.5 755.7 1133C757.7 1129.9 760.1 1126.9 762.9 1124.4C766.2 1121.3 770.4 1119.3 774.3 1117C783.3 1111.8 793.3 1108.6 802.9 1104.7C812.3 1100.8 821.8 1096.9 831.4 1093.6C840.8 1090.4 850.4 1087.6 860 1085C868.5 1082.7 877.1 1080.7 885.7 1078.8C899.9 1075.6 914.2 1072.4 928.6 1070.2C947.5 1067.2 966.6 1066 985.7 1064.6C1009.5 1062.8 1033.3 1062.3 1057.1 1061.6C1080.9 1060.8 1104.8 1060.1 1128.6 1060.3C1147.6 1060.5 1166.7 1061.1 1185.7 1062.1C1204.8 1063.1 1223.9 1064 1242.9 1066.5C1257.3 1068.4 1271.5 1070.8 1285.7 1073.9C1300.1 1077 1314.6 1080.4 1328.6 1085C1343.2 1089.8 1357.5 1095.6 1371.4 1102.2C1383.1 1107.8 1394.6 1113.9 1405.7 1120.7C1415.6 1126.8 1425.5 1132.9 1434.3 1140.4C1439.3 1144.7 1444.6 1148.8 1448.6 1154C1450.7 1156.7 1453.4 1159.3 1454.3 1162.6C1454.9 1164.6 1454.7 1166.7 1454.9 1168.7"/>
<path class="cv" stroke="#a640b0" d="M420 1716.8C424 1712.6 428.5 1708.8 432.1 1704.2C435.4 1700 438.4 1695.5 440.9 1690.8C443.6 1685.7 445.6 1680.2 447.7 1674.8C449.5 1670.1 450.9 1665.3 452.6 1660.5C454.2 1656 455.8 1651.5 457.5 1647.1C458.8 1643.7 459.9 1640.3 461.4 1637.1C462.8 1634.1 464.1 1631 466.2 1628.6C467.6 1627 469.6 1625.9 471.1 1624.4C473.3 1622.1 475.1 1619.5 476.9 1616.9C478.7 1614.2 480.2 1611.3 481.8 1608.4C482.8 1606.8 483.8 1605.1 484.7 1603.4C493.2 1588.4 499.6 1572.2 505.7 1556C511.5 1540.5 516 1524.5 520.7 1508.6C525.3 1492.9 529.3 1477 533.6 1461.2C538 1445.4 542.6 1429.7 546.8 1413.8C555 1382.4 560.6 1350.4 568.6 1319C576.7 1287.2 587 1256 595 1224.1C599.6 1206 603.8 1187.7 608 1169.4C612.2 1151.1 615.6 1132.7 620.3 1114.6C621.8 1108.8 623.3 1103.1 625 1097.4C625.9 1094.4 626.9 1091.4 627.8 1088.4C628.6 1086.8 629.1 1084.9 630.3 1083.6C631.3 1082.5 632.8 1081.9 634 1081C642.7 1080.5 651.3 1080 660 1079.4C674.3 1078.5 688.6 1077.3 702.9 1076.4C726.7 1074.9 750.5 1073.4 774.3 1072.7C792.4 1072.1 810.5 1071.1 828.6 1071.7C842.9 1072.2 857.2 1073.5 871.4 1075.1C881 1076.1 890.5 1077.2 900 1078.8C909.6 1080.5 919.3 1082.2 928.6 1085C938.4 1087.9 947.8 1091.9 957.1 1096C966.9 1100.4 976.3 1105.6 985.7 1110.9C995.4 1116.3 1005 1122 1014.3 1128.1C1029.2 1137.9 1043.6 1148.4 1057.1 1160.1C1066.1 1167.9 1074.7 1176.1 1082.9 1184.7C1088.9 1191.1 1094.2 1198 1100 1204.4C1104.7 1209.6 1109.5 1214.6 1114.3 1219.7"/>
<path class="cv" stroke="#6245b0" d="M419 1719.8C420.2 1716 421.4 1712.2 422.6 1708.4C424.8 1701.4 426.9 1694.4 429.2 1687.4C431.1 1681.8 433.1 1676.2 435.1 1670.6C436.7 1666.1 437.9 1661.5 439.9 1657.2C441.3 1654 442.8 1650.8 444.8 1647.9C446.3 1645.8 447.7 1643.7 449.7 1642.1C451.4 1640.6 453.8 1640.2 455.5 1638.7C457.6 1636.9 458.8 1634.3 460.4 1632C462.5 1629 464.3 1625.9 466.2 1622.8C468.2 1619.4 470.2 1616.1 472.1 1612.7C473.8 1609.6 475.4 1606.6 476.9 1603.4C484.4 1588.3 489.4 1572 495 1556C500.5 1540.4 505.1 1524.5 510 1508.6C514.9 1492.8 519.6 1477 524.3 1461.2C529 1445.4 534 1429.7 538.3 1413.8C546.8 1382.5 551.9 1350.4 560 1319C568.3 1287.1 578.9 1255.9 587.5 1224.1C592.4 1205.8 597.1 1187.4 601.7 1169C606.2 1150.9 610.3 1132.7 614.7 1114.6C616.4 1107.7 618.1 1100.8 619.8 1094C620.7 1090.2 621.7 1086.5 622.6 1082.8C623.4 1081.6 623.9 1080.1 625 1079.3C626 1078.6 627.3 1078.4 628.5 1078C631 1079 633.5 1080.2 636 1081C639.2 1082.1 642.4 1082.9 645.7 1083.7C659.7 1087 674.3 1085.3 688.6 1086.2C700.5 1087 712.5 1087.2 724.3 1088.7C731.5 1089.7 738.6 1090.9 745.7 1092.3C755.3 1094.3 764.9 1096.7 774.3 1099.7C784 1102.9 793.4 1107 802.9 1110.9C812.5 1114.8 822 1118.8 831.4 1123.2C841.1 1127.8 850.9 1132.2 860 1137.9C868.1 1143.1 875.3 1149.4 882.9 1155.2C893.5 1163.3 904.3 1171.1 914.3 1179.8C923.2 1187.6 932 1195.6 940 1204.4C945 1209.9 950.2 1215.4 954.3 1221.6C956.4 1224.8 958.1 1228.2 960 1231.6"/>
</g></g>
<rect class="ax" x="417.4" y="1131.4" width="1181.2" height="861.6"/>
<path class="tk" d="M614.3 1993 v-14M811.1 1993 v-14M1008 1993 v-14M1204.9 1993 v-14M1401.7 1993 v-14M417.4 1820.7 h14M417.4 1648.4 h14M417.4 1476 h14M417.4 1303.7 h14"/>
<text x="416.4" y="2053.8" text-anchor="middle">0</text>
<text x="613.3" y="2053.8" text-anchor="middle">5</text>
<text x="810.1" y="2053.8" text-anchor="middle">10</text>
<text x="1007" y="2053.8" text-anchor="middle">15</text>
<text x="1203.9" y="2053.8" text-anchor="middle">20</text>
<text x="1400.7" y="2053.8" text-anchor="middle">25</text>
<text x="1597.6" y="2053.8" text-anchor="middle">30</text>
<text x="397.6" y="2007.2" text-anchor="end">0</text>
<text x="397.6" y="1834.9" text-anchor="end">200</text>
<text x="397.6" y="1662.6" text-anchor="end">400</text>
<text x="397.6" y="1490.2" text-anchor="end">600</text>
<text x="397.6" y="1317.9" text-anchor="end">800</text>
<text x="397.6" y="1145.6" text-anchor="end">1000</text>
<text x="1007.5" y="2132.9" text-anchor="middle">Strain/<tspan font-style="italic">%</tspan></text>
<text transform="translate(270.6 1560.7) rotate(-90)" text-anchor="middle">Stress/MPa</text>
<text x="436.8" y="1193.3">(c)</text>
<path class="sw" stroke="#1a1718" d="M1118.2 1624.7 H1176.1"/>
<text x="1196" y="1640.3">Corrosion, 10<tspan class="sup" dy="-16.3">−7</tspan><tspan dy="16.3">/s</tspan></text>
<path class="sw" stroke="#e8212f" d="M1118.2 1688.2 H1176.1"/>
<text x="1196" y="1703.8">Dry air, 10<tspan class="sup" dy="-16.3">−7</tspan><tspan dy="16.3">/s</tspan></text>
<path class="sw" stroke="#5cc035" d="M1118.2 1751.7 H1176.1"/>
<text x="1196" y="1767.3">Corrosion, 10<tspan class="sup" dy="-16.3">−6</tspan><tspan dy="16.3">/s</tspan></text>
<path class="sw" stroke="#3450b0" d="M1118.2 1815.2 H1176.1"/>
<text x="1196" y="1830.8">Dry air, 10<tspan class="sup" dy="-16.3">−6</tspan><tspan dy="16.3">/s</tspan></text>
<path class="sw" stroke="#a640b0" d="M1118.2 1878.7 H1176.1"/>
<text x="1196" y="1894.3">Corrosion, 10<tspan class="sup" dy="-16.3">−5</tspan><tspan dy="16.3">/s</tspan></text>
<path class="sw" stroke="#dcc6ea" stroke-width="3" d="M1118.2 1946.4 H1176.1"/>
<path class="sw" stroke="#6245b0" d="M1118.2 1942.2 H1176.1"/>
<text x="1196" y="1957.8">Dry air, 10<tspan class="sup" dy="-16.3">−5</tspan><tspan dy="16.3">/s</tspan></text>
</g>
<g id="panel-d">
<clipPath id="clip-d"><rect x="1918.6" y="1131.4" width="1176" height="856.7"/></clipPath>
<g clip-path="url(#clip-d)"><g transform="scale(1 1.16)">
<path class="cv" stroke="#1a1718" d="M1915 1715.9C1923 1714 1931.3 1712.9 1939 1710.1C1943 1708.6 1947 1707.2 1950.6 1705.1C1953.8 1703.2 1956.8 1701 1959.4 1698.4C1962.1 1695.6 1964.2 1692.3 1966.2 1689.1C1968.5 1685.3 1970.2 1681.3 1972.1 1677.3C1974.2 1672.9 1976 1668.4 1977.9 1663.9C1979.6 1660 1981.2 1656.1 1982.8 1652.2C1984.4 1648.2 1985.9 1644.3 1987.7 1640.4C1989.2 1637.3 1990.6 1634.1 1992.5 1631.1C1994 1628.8 1995.5 1626.4 1997.4 1624.4C1998.9 1622.9 2000.6 1621.5 2002.3 1620.3C2004.1 1619 2006.3 1618.3 2008.1 1616.9C2010.4 1615.1 2012.2 1612.5 2014 1610.2C2015.7 1608 2017.2 1605.7 2018.8 1603.4C2029.4 1588.3 2040.1 1572.8 2047.9 1556C2055 1540.9 2059 1524.5 2064.3 1508.6C2069.5 1492.9 2074.3 1477 2079.3 1461.2C2084.3 1445.4 2089.4 1429.6 2094.3 1413.8C2100.6 1393.7 2107 1373.7 2112.8 1353.4C2118.9 1332 2124.2 1310.3 2130 1288.8C2135.8 1267.2 2141.8 1245.7 2147.4 1224.1C2149.1 1217.6 2150.8 1211 2152.5 1204.4C2154.3 1197.4 2155.5 1190.3 2157.6 1183.4C2159.3 1178 2160.8 1172.5 2163.4 1167.5C2165.1 1164.3 2167 1161.1 2169.3 1158.3C2171.9 1155.1 2175.1 1152.5 2178.1 1149.8C2182.1 1146.3 2186.3 1142.9 2190.7 1139.7C2194.8 1136.8 2199.1 1134.1 2203.4 1131.4C2214.5 1124.4 2225.7 1117.6 2237.6 1112.2C2254.3 1104.5 2272.5 1100.3 2290.2 1095.5C2307.6 1090.8 2325.1 1086.9 2342.8 1083.4C2360.2 1080.1 2377.8 1077.3 2395.4 1075.2C2412.9 1073 2430.4 1071.7 2448 1070.6C2465.3 1069.5 2482.7 1068.9 2500 1068.5C2514.3 1068.2 2528.6 1068.1 2542.9 1068.4C2557.2 1068.6 2571.4 1069.4 2585.7 1070.2C2609.5 1071.4 2633.4 1072.1 2657.1 1075.1C2676.3 1077.5 2695.5 1080.3 2714.3 1085C2728.8 1088.7 2743 1093.5 2757.1 1098.5C2771.6 1103.7 2786 1109.3 2800 1115.8C2812.7 1121.7 2825.1 1128.2 2837.1 1135.4C2845.9 1140.8 2855 1146 2862.9 1152.7C2867.9 1156.9 2873.3 1160.9 2877.1 1166.3C2879.4 1169.6 2881 1173.3 2882.9 1176.8"/>
<path class="cv" stroke="#e8212f" d="M1922 1716.4C1930.3 1714.3 1938.8 1713 1946.8 1710.1C1952.1 1708.2 1957.4 1706.1 1962.3 1703.4C1967.1 1700.7 1971.5 1697.3 1976 1694.1C1979.9 1691.4 1983.9 1688.6 1987.7 1685.7C1991 1683.2 1994.2 1680.8 1997.4 1678.2C2000.1 1676 2002.8 1673.9 2005.2 1671.5C2007.6 1669.1 2009.9 1666.5 2012 1663.9C2014.5 1660.7 2016.6 1657.2 2018.8 1653.8C2021.1 1650.2 2023.2 1646.4 2025.6 1642.9C2027.8 1639.8 2030.1 1636.7 2032.5 1633.7C2034.7 1631.1 2036.9 1628.5 2039.3 1626.1C2041.4 1624 2043.6 1622 2046.1 1620.3C2048.5 1618.6 2051.5 1617.7 2053.9 1616C2056.4 1614.3 2058.6 1612.3 2060.7 1610.2C2062.8 1608.1 2064.7 1605.7 2066.6 1603.4C2079.3 1588.7 2091.7 1573.3 2100.7 1556C2108.5 1541.1 2112.9 1524.5 2118.6 1508.6C2124.3 1492.9 2129.3 1476.9 2135 1461.2C2140.7 1445.3 2147.4 1429.8 2152.9 1413.8C2159.7 1393.9 2165.1 1373.6 2171.2 1353.4C2177.7 1331.9 2184.2 1310.3 2190.7 1288.8C2197.2 1267.2 2203.5 1245.6 2210.2 1224.1C2211.8 1219 2213.3 1213.8 2215.1 1208.6C2218 1200.1 2220.9 1191.6 2224.8 1183.4C2227.7 1177.4 2230.5 1171.2 2234.5 1165.8C2236.2 1163.4 2238 1161.2 2240 1159.1C2242.5 1156.3 2245.4 1153.9 2248.2 1151.5C2255.9 1144.8 2264.1 1138.8 2272.7 1133.4C2283.8 1126.3 2295.7 1120.3 2307.8 1115.2C2319.2 1110.3 2330.9 1106.5 2342.8 1103.1C2360 1098.1 2377.7 1095 2395.4 1091.8C2412.8 1088.7 2430.4 1086.3 2448 1084.2C2465.5 1082.2 2483 1080.8 2500.6 1079.7C2514.7 1078.7 2528.8 1078 2542.9 1077.6C2557.2 1077.2 2571.4 1077.1 2585.7 1077.1C2614.3 1077 2642.9 1077 2671.4 1078.4C2690.5 1079.3 2709.6 1080.4 2728.6 1082.5C2747.7 1084.6 2767 1086.7 2785.7 1091.1C2805.2 1095.7 2824.4 1101.9 2842.9 1109.6C2862.7 1117.8 2881.7 1128 2900 1139.1C2914.8 1148.2 2929.4 1157.8 2942.9 1168.7C2952.9 1176.8 2963.1 1184.8 2971.4 1194.6C2976.7 1200.7 2982.8 1206.7 2985.7 1214.3C2986.2 1215.8 2986.6 1217.2 2987.1 1218.7"/>
<path class="cv" stroke="#5cc035" d="M1932 1716.4C1944.1 1714 1956.4 1712.7 1968.2 1709.2C1973.1 1707.8 1978.1 1706.4 1982.8 1704.2C1987.2 1702.1 1991.5 1699.6 1995.4 1696.6C1999 1693.9 2002.3 1690.8 2005.2 1687.4C2008.2 1683.8 2010.7 1679.8 2013 1675.7C2015.2 1671.9 2016.9 1667.8 2018.8 1663.9C2020.8 1659.7 2022.8 1655.5 2024.7 1651.3C2026.4 1647.4 2027.8 1643.4 2029.5 1639.6C2031 1636.2 2032.5 1632.7 2034.4 1629.5C2036.1 1626.6 2037.9 1623.5 2040.3 1621.1C2042.3 1619.1 2044.9 1617.8 2047.1 1616C2049.1 1614.4 2051.2 1612.9 2052.9 1611C2054.9 1608.8 2056.2 1606 2057.8 1603.4C2067.4 1588.2 2076.4 1572.5 2083.6 1556C2090.3 1540.7 2094.7 1524.5 2100 1508.6C2105.2 1492.9 2109.9 1477 2115 1461.2C2120.1 1445.4 2125.6 1429.6 2130.7 1413.8C2137.1 1393.8 2143.6 1373.7 2149.3 1353.4C2155.4 1332 2160.4 1310.3 2166 1288.8C2171.6 1267.2 2176.9 1245.6 2182.9 1224.1C2185.1 1216.2 2187.4 1208.2 2189.7 1200.3C2192.3 1191 2194.6 1181.7 2197.5 1172.5C2199.4 1166.6 2200.5 1160.4 2203.4 1154.9C2204.8 1152.3 2206.1 1149.5 2208.2 1147.3C2210.2 1145.3 2212.8 1144 2215.1 1142.3C2218.3 1140 2221.4 1137.7 2224.8 1135.6C2229.6 1132.7 2234.8 1130.2 2240 1128C2244.9 1125.9 2250.1 1124.5 2255.2 1122.8C2266.9 1118.6 2278.5 1114 2290.2 1109.9C2301.8 1105.9 2313.4 1101.8 2325.3 1098.5C2342.6 1093.8 2360.3 1090.9 2377.9 1088C2395.3 1085.2 2412.9 1083.1 2430.5 1081.2C2453.8 1078.7 2477.2 1077.3 2500.6 1075.9C2514.7 1075 2528.8 1074.2 2542.9 1073.7C2557.2 1073.2 2571.4 1072.8 2585.7 1072.7C2614.3 1072.3 2642.9 1071.9 2671.4 1073.9C2690.5 1075.2 2709.8 1076.5 2728.6 1080.1C2743.1 1082.9 2757.3 1086.7 2771.4 1091.1C2786 1095.7 2800.3 1101.1 2814.3 1107.2C2828.9 1113.4 2843.5 1119.9 2857.1 1128.1C2867 1134.1 2876.7 1140.5 2885.7 1147.8C2890.6 1151.7 2896.3 1155 2900 1160.1C2902.1 1163.1 2903.4 1166.6 2905.1 1169.9"/>
<path class="cv" stroke="#3450b0" d="M1928 1716.4C1941.4 1714.3 1955.1 1713.7 1968.2 1710.1C1974.1 1708.4 1980.1 1706.7 1985.7 1704.2C1991.1 1701.9 1996.3 1698.9 2001.3 1695.8C2005.7 1693 2010 1690 2014 1686.6C2017.8 1683.2 2021.3 1679.5 2024.7 1675.7C2028.1 1671.9 2031.4 1668 2034.4 1663.9C2037.2 1660.1 2039.7 1656.1 2042.2 1652.2C2044.6 1648.3 2046.7 1644.3 2049 1640.4C2051 1637.1 2052.6 1633.5 2054.9 1630.3C2056.7 1628 2058.5 1625.6 2060.7 1623.6C2063 1621.6 2066 1620.3 2068.5 1618.5C2070.8 1616.9 2073.2 1615.4 2075.3 1613.5C2077.8 1611.3 2079.9 1608.6 2082.1 1605.9C2082.8 1605.1 2083.4 1604.3 2084.1 1603.4C2096.1 1588.4 2108.5 1573.3 2117.1 1556C2124.6 1541.1 2128.3 1524.5 2133.6 1508.6C2138.8 1492.9 2143.4 1476.9 2148.6 1461.2C2153.9 1445.3 2159.7 1429.7 2165 1413.8C2171.6 1393.8 2177.9 1373.7 2183.9 1353.4C2190.3 1332 2195.9 1310.3 2202 1288.8C2208.1 1267.2 2214.3 1245.7 2220.4 1224.1C2221.9 1219 2223.3 1213.8 2224.8 1208.6C2226.9 1201.6 2228.8 1194.5 2231.5 1187.7C2233.6 1182.5 2236.3 1177.6 2238.5 1172.5C2240.7 1167.5 2242.1 1162.3 2244.7 1157.5C2247.6 1152.1 2251.2 1147.1 2255.2 1142.4C2259.4 1137.4 2264.3 1133 2269.2 1128.8C2275.7 1123.2 2282.9 1118.3 2290.2 1113.7C2298.6 1108.5 2307.4 1103.8 2316.5 1100.1C2325 1096.6 2333.9 1094.2 2342.8 1091.8C2354.4 1088.7 2366.1 1086.4 2377.9 1084.2C2395.3 1081 2412.9 1078.7 2430.5 1076.6C2453.8 1073.9 2477.2 1072.4 2500.6 1070.6C2514.7 1069.5 2528.8 1068.6 2542.9 1067.5C2552.4 1066.8 2561.9 1065.7 2571.4 1065.3C2595.2 1064 2619.1 1065.2 2642.9 1066.5C2666.8 1067.7 2690.6 1069.4 2714.3 1072.7C2738.3 1076 2762.3 1079.8 2785.7 1086.2C2805.2 1091.5 2824.3 1098.1 2842.9 1105.9C2862.6 1114.3 2881.7 1124.3 2900 1135.4C2914.8 1144.5 2929.3 1154.3 2942.9 1165C2952.8 1172.8 2962.8 1180.5 2971.4 1189.7C2976.5 1195.1 2982.1 1200.3 2985.7 1206.9C2987 1209.3 2988 1211.8 2989.1 1214.3"/>
<path class="cv" stroke="#a640b0" d="M1935 1715.9C1946.1 1714.8 1957.5 1715.7 1968.2 1712.6C1972.2 1711.4 1976.3 1710.4 1979.9 1708.4C1983.6 1706.2 1986.8 1703.2 1989.6 1700C1992.3 1697 1994.3 1693.4 1996.4 1689.9C1998.5 1686.4 2000.4 1682.7 2002.3 1679.1C2004.3 1675.2 2006.3 1671.2 2008.1 1667.2C2009.8 1663.4 2011.5 1659.5 2013 1655.5C2014.4 1651.7 2015.6 1647.7 2016.9 1643.8C2018.2 1640.1 2019.3 1636.4 2020.8 1632.8C2021.8 1630.3 2022.4 1627.4 2024.2 1625.3C2025.6 1623.5 2027.7 1622.5 2029.5 1621.1C2031.4 1619.7 2033.6 1618.5 2035.4 1616.9C2037.3 1615.2 2038.8 1613.1 2040.3 1611C2042.1 1608.6 2043.5 1606 2045.1 1603.4C2054.8 1587.9 2065.1 1572.6 2072.9 1556C2080.1 1540.8 2085.2 1524.6 2090.7 1508.6C2096.1 1493 2100.5 1476.9 2105.7 1461.2C2111 1445.3 2116.8 1429.7 2122.1 1413.8C2128.7 1393.8 2135.2 1373.7 2141 1353.4C2147.2 1332 2152.3 1310.3 2158 1288.8C2163.7 1267.2 2169.1 1245.6 2175.1 1224.1C2177.3 1216.2 2179.7 1208.2 2181.9 1200.3C2185 1189.1 2187.4 1177.7 2190.7 1166.6C2192.8 1159.6 2194.4 1152.4 2197.5 1145.7C2199.2 1141.9 2200.9 1138 2203.4 1134.7C2205.4 1132.2 2207.7 1130 2210.2 1128C2214.5 1124.5 2219.8 1122.1 2224.8 1119.7C2229.7 1117.2 2234.9 1115.3 2240 1113.4C2256.3 1107 2273.3 1102.4 2290.2 1097.8C2307.6 1093.2 2325.1 1089.1 2342.8 1085.7C2360.2 1082.3 2377.8 1079.6 2395.4 1077.4C2412.9 1075.3 2430.4 1074.1 2448 1072.8C2465.5 1071.6 2483.1 1070.6 2500.6 1069.8C2514.7 1069.2 2528.8 1068.8 2542.9 1068.5C2557.2 1068.3 2571.4 1068.2 2585.7 1068.4C2609.5 1068.8 2633.4 1069.5 2657.1 1071.9C2676.3 1073.8 2695.4 1076.2 2714.3 1080.1C2728.7 1083.1 2743 1086.7 2757.1 1091.1C2771.7 1095.7 2786 1101.1 2800 1107.2C2814.6 1113.4 2829 1120.4 2842.9 1128.1C2852.6 1133.5 2862.5 1138.7 2871.4 1145.3C2878.5 1150.6 2885.4 1156.1 2891.4 1162.6C2893.9 1165.3 2896.2 1168.3 2898.6 1171.2"/>
<path class="cv" stroke="#6245b0" d="M1916.8 1720.7C1917.1 1717.7 1917.5 1714.7 1917.8 1711.7C1918.4 1706.4 1918.2 1700.9 1919.8 1695.8C1920.7 1692.9 1921.9 1690 1923.4 1687.4C1924.8 1685 1926.5 1682.8 1928.2 1680.7C1931.4 1676.7 1935.7 1673.7 1939 1669.7C1942.7 1665.3 1945.6 1660.4 1948.7 1655.5C1951.8 1650.6 1954.9 1645.6 1957.5 1640.4C1959.7 1636.1 1961.5 1631.5 1963.3 1627C1965 1622.8 1966.5 1618.6 1968.2 1614.4C1969.7 1610.7 1971.4 1607.1 1973 1603.4C1979.6 1587.9 1985.2 1572 1990.7 1556C1996.1 1540.4 2000.9 1524.5 2005.7 1508.6C2010.4 1492.9 2014.6 1476.9 2019.3 1461.2C2024.1 1445.3 2029.6 1429.7 2034.3 1413.8C2040.3 1393.8 2045.5 1373.6 2050.9 1353.4C2056.7 1331.9 2062.2 1310.3 2068 1288.8C2073.8 1267.2 2080 1245.8 2085.5 1224.1C2087.5 1216.2 2089.6 1208.2 2091.5 1200.3C2093.9 1190.5 2095.1 1180.4 2098.2 1170.9C2099.8 1165.8 2101.1 1160.6 2103.8 1156C2104.5 1154.9 2105 1153.5 2106 1152.6C2107 1151.7 2108.2 1151 2109.5 1150.7C2110.8 1150.4 2112.2 1150.6 2113.5 1150.7C2116.5 1150.9 2119.5 1152.2 2122.5 1152.4C2127.4 1152.8 2132.2 1151.4 2137.1 1150.7C2143.6 1149.8 2150.1 1148.5 2156.6 1147.3C2163.1 1146.1 2169.6 1144.7 2176.1 1143.5C2182.6 1142.3 2189.1 1141.1 2195.6 1140.2C2202.1 1139.3 2208.6 1138.7 2215.1 1138.1C2223.4 1137.4 2231.7 1137.1 2240 1136.4C2245.1 1135.9 2250.1 1135.3 2255.2 1134.8C2278.5 1132.6 2301.9 1132 2325.3 1131C2348.7 1130.1 2372 1129.3 2395.4 1129.1C2412.9 1128.8 2430.5 1128.2 2448 1129.1C2459.7 1129.6 2471.4 1130.6 2483 1131.8C2494.7 1133 2506.4 1134.9 2518.1 1136.4C2535.4 1138.6 2553 1139.4 2570 1143.1C2580.1 1145.3 2590.3 1147.7 2600 1151.3C2609.9 1155 2619.1 1160.3 2628.6 1165C2643 1172.1 2657.3 1179.5 2671.4 1187.2C2681 1192.4 2691.6 1196.2 2700 1203.2C2703.6 1206.2 2708.2 1208.7 2710 1213C2711.4 1216.4 2710.6 1220.4 2710.9 1224.1"/>
</g></g>
<rect class="ax" x="1913.7" y="1131.4" width="1180.9" height="861.6"/>
<path class="tk" d="M2128.6 1993 v-14M2343.5 1993 v-14M2558.4 1993 v-14M2773.3 1993 v-14M2988.2 1993 v-14M1913.7 1820.7 h14M1913.7 1648.4 h14M1913.7 1476 h14M1913.7 1303.7 h14"/>
<text x="1912.7" y="2053.8" text-anchor="middle">0</text>
<text x="2127.6" y="2053.8" text-anchor="middle">5</text>
<text x="2342.5" y="2053.8" text-anchor="middle">10</text>
<text x="2557.4" y="2053.8" text-anchor="middle">15</text>
<text x="2772.3" y="2053.8" text-anchor="middle">20</text>
<text x="2987.2" y="2053.8" text-anchor="middle">25</text>
<text x="1893.9" y="2007.2" text-anchor="end">0</text>
<text x="1893.9" y="1834.9" text-anchor="end">200</text>
<text x="1893.9" y="1662.6" text-anchor="end">400</text>
<text x="1893.9" y="1490.2" text-anchor="end">600</text>
<text x="1893.9" y="1317.9" text-anchor="end">800</text>
<text x="1893.9" y="1145.6" text-anchor="end">1000</text>
<text x="2503.7" y="2132.9" text-anchor="middle">Strain/<tspan font-style="italic">%</tspan></text>
<text transform="translate(1766.9 1560.7) rotate(-90)" text-anchor="middle">Stress/MPa</text>
<text x="1937.7" y="1193.9">(d)</text>
<path class="sw" stroke="#1a1718" d="M2611.4 1625.5 H2669.3"/>
<text x="2688.2" y="1641.1">Corrosion, 10<tspan class="sup" dy="-16.3">−7</tspan><tspan dy="16.3">/s</tspan></text>
<path class="sw" stroke="#e8212f" d="M2611.4 1689 H2669.3"/>
<text x="2688.2" y="1704.6">Dry air, 10<tspan class="sup" dy="-16.3">−7</tspan><tspan dy="16.3">/s</tspan></text>
<path class="sw" stroke="#5cc035" d="M2611.4 1752.5 H2669.3"/>
<text x="2688.2" y="1768.1">Corrosion, 10<tspan class="sup" dy="-16.3">−6</tspan><tspan dy="16.3">/s</tspan></text>
<path class="sw" stroke="#3450b0" d="M2611.4 1816 H2669.3"/>
<text x="2688.2" y="1831.6">Dry air, 10<tspan class="sup" dy="-16.3">−6</tspan><tspan dy="16.3">/s</tspan></text>
<path class="sw" stroke="#a640b0" d="M2611.4 1879.5 H2669.3"/>
<text x="2688.2" y="1895.1">Corrosion, 10<tspan class="sup" dy="-16.3">−5</tspan><tspan dy="16.3">/s</tspan></text>
<path class="sw" stroke="#dcc6ea" stroke-width="3" d="M2611.4 1947.2 H2669.3"/>
<path class="sw" stroke="#6245b0" d="M2611.4 1943 H2669.3"/>
<text x="2688.2" y="1958.6">Dry air, 10<tspan class="sup" dy="-16.3">−5</tspan><tspan dy="16.3">/s</tspan></text>
</g>
</svg></body></html>
